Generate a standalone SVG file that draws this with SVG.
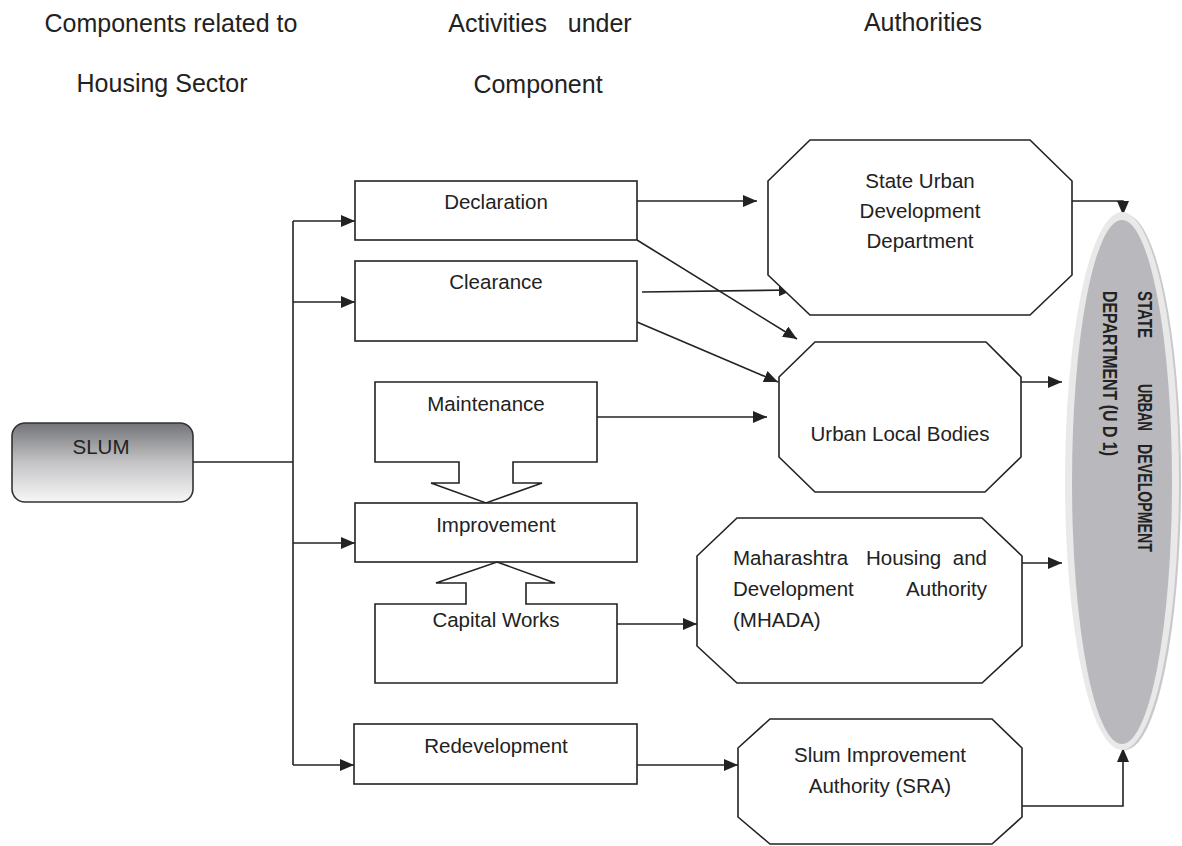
<svg xmlns="http://www.w3.org/2000/svg" width="1182" height="846" viewBox="0 0 1182 846">
<style>
.hdr{font-family:"Liberation Sans",Arial,sans-serif;font-size:25px;fill:#222}
.t{font-family:"Liberation Sans",Arial,sans-serif;font-size:20.5px;fill:#222}
.tb{font-family:"Liberation Sans",Arial,sans-serif;font-size:20px;font-weight:bold;fill:#222}
.box{fill:#fff;stroke:#222;stroke-width:1.6}
.ln{fill:none;stroke:#222;stroke-width:1.6}
.mid{text-anchor:middle}
</style>
<defs>
<linearGradient id="g1" x1="0" y1="0" x2="0" y2="1">
<stop offset="0" stop-color="#737478"/>
<stop offset="0.5" stop-color="#c4c4c6"/>
<stop offset="1" stop-color="#f7f7f7"/>
</linearGradient>
<marker id="ah" markerUnits="userSpaceOnUse" markerWidth="16" markerHeight="12" refX="14" refY="6" orient="auto">
<path d="M0,0 L14,6 L0,12 Z" fill="#222"/>
</marker>
</defs>

<g id="headers">
<text class="hdr mid" x="171" y="32">Components related to</text>
<text class="hdr mid" x="162" y="92">Housing Sector</text>
<text class="hdr mid" x="540" y="32" xml:space="preserve">Activities   under</text>
<text class="hdr mid" x="538" y="93">Component</text>
<text class="hdr mid" x="923" y="31">Authorities</text>
</g>

<g id="connectors">
<path class="ln" d="M193,462 H293"/>
<path class="ln" d="M293,221 V765"/>
<path class="ln" d="M293,221 H355" marker-end="url(#ah)"/>
<path class="ln" d="M293,302 H355" marker-end="url(#ah)"/>
<path class="ln" d="M293,543 H355" marker-end="url(#ah)"/>
<path class="ln" d="M293,765 H354" marker-end="url(#ah)"/>
<path class="ln" d="M637,201 H757" marker-end="url(#ah)"/>
<path class="ln" d="M642,292 L793,290" marker-end="url(#ah)"/>
<path class="ln" d="M637,240 L797,339" marker-end="url(#ah)"/>
<path class="ln" d="M637,322 L778,382" marker-end="url(#ah)"/>
<path class="ln" d="M592,417 H767" marker-end="url(#ah)"/>
<path class="ln" d="M617,624 H697" marker-end="url(#ah)"/>
<path class="ln" d="M637,765 H738" marker-end="url(#ah)"/>
<path class="ln" d="M1072,201 H1123 V215" marker-end="url(#ah)"/>
<path class="ln" d="M1021,382 H1062" marker-end="url(#ah)"/>
<path class="ln" d="M1022,563 H1062" marker-end="url(#ah)"/>
<path class="ln" d="M1022,806 H1123 V748" marker-end="url(#ah)"/>
</g>

<g id="slum">
<rect x="12" y="423" width="181" height="79" rx="13" fill="url(#g1)" stroke="#333" stroke-width="1.6"/>
<text class="t mid" x="101" y="454">SLUM</text>
</g>

<g id="declaration">
<rect class="box" x="355" y="181" width="282" height="59"/>
<text class="t mid" x="496" y="209">Declaration</text>
</g>

<g id="clearance">
<rect class="box" x="355" y="261" width="282" height="80"/>
<text class="t mid" x="496" y="289">Clearance</text>
</g>

<g id="maintenance">
<path class="box" d="M375,382 H597 V462 H513 V483 H542 L486,503 L431,483 H459 V462 H375 Z"/>
<text class="t mid" x="486" y="411">Maintenance</text>
</g>

<g id="improvement">
<rect class="box" x="355" y="503" width="282" height="59"/>
<text class="t mid" x="496" y="532">Improvement</text>
</g>

<g id="capital-works">
<path class="box" d="M375,604 H466 V583 H436 L497,562 L555,583 H526 V604 H617 V683 H375 Z"/>
<text class="t mid" x="496" y="627">Capital Works</text>
</g>

<g id="redevelopment">
<rect class="box" x="354" y="724" width="283" height="60"/>
<text class="t mid" x="496" y="753">Redevelopment</text>
</g>

<g id="state-urban-dev-dept">
<polygon class="box" points="810,140 1030,140 1072,181 1072,275 1030,315 810,315 768,275 768,181"/>
<text class="t mid" x="920" y="188">State Urban</text>
<text class="t mid" x="920" y="218">Development</text>
<text class="t mid" x="920" y="248">Department</text>
</g>

<g id="urban-local-bodies">
<polygon class="box" points="815,342 986,342 1021,377 1021,457 985,492 815,492 779,457 779,377"/>
<text class="t mid" x="900" y="441">Urban Local Bodies</text>
</g>

<g id="mhada">
<polygon class="box" points="737,518 982,518 1022,556 1022,646 982,683 737,683 697,646 697,556"/>
<text class="t" x="733" y="565">Maharashtra</text>
<text class="t" x="866" y="565">Housing</text>
<text class="t" x="987" y="565" text-anchor="end">and</text>
<text class="t" x="733" y="596">Development</text>
<text class="t" x="987" y="596" text-anchor="end">Authority</text>
<text class="t" x="733" y="627">(MHADA)</text>
</g>

<g id="sra">
<polygon class="box" points="770,719 992,719 1022,748 1022,817 992,844 770,844 738,817 738,748"/>
<text class="t mid" x="880" y="762">Slum Improvement</text>
<text class="t mid" x="880" y="793">Authority (SRA)</text>
</g>

<g id="state-urban-development-department">
<ellipse cx="1125" cy="482" rx="56" ry="268" fill="#c9c9cb"/>
<ellipse cx="1122" cy="481" rx="57" ry="269" fill="#e9e9ea"/>
<ellipse cx="1122" cy="482" rx="50" ry="262" fill="#b9b9bd"/>
<g transform="translate(1138,291) rotate(90)">
<text class="tb" x="0" y="0" textLength="47" lengthAdjust="spacingAndGlyphs">STATE</text>
<text class="tb" x="93" y="0" textLength="47" lengthAdjust="spacingAndGlyphs">URBAN</text>
<text class="tb" x="153" y="0" textLength="108" lengthAdjust="spacingAndGlyphs">DEVELOPMENT</text>
<text class="tb" x="0" y="35" textLength="165" lengthAdjust="spacingAndGlyphs">DEPARTMENT (U D 1)</text>
</g>
</g>
</svg>
